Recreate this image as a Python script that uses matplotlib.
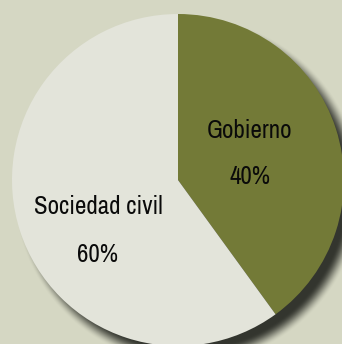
import numpy as np
import matplotlib.pyplot as plt
from matplotlib import font_manager

labels = ['Gobierno', 'Sociedad civil']
shares = [40, 60]
pct_labels = ['40%', '60%']

W, H = 342, 344
bg = '#d5d7c3'
colors = ['#737a37', '#e3e4da']
shadow_rgb = np.array([0x33, 0x35, 0x2e]) / 255

# pick a narrow face if one is installed
fam, stretch = 'DejaVu Sans', 'normal'
for f in font_manager.fontManager.ttflist:
    if 'Condensed' in f.name or 'Narrow' in f.name:
        fam = f.name
        break
    if f.name == 'DejaVu Sans' and f.stretch == 'condensed':
        stretch = 'condensed'

fig = plt.figure(figsize=(W / 100, H / 100), dpi=100, facecolor=bg)
ax = fig.add_axes([0, 0, 1, 1])
ax.set_facecolor(bg)

cx, cy, R = 178, H - 180, 166

# soft drop shadow to the lower right
yy, xx = np.mgrid[0:H, 0:W]
d = np.hypot(xx + 0.5 - (cx + 10), (H - yy - 0.5) - (cy - 11))
a = np.clip((R - d) / 16 + 0.5, 0, 1)
a = a * a * (3 - 2 * a)
img = np.zeros((H, W, 4))
img[..., :3] = shadow_rgb
img[..., 3] = a
ax.imshow(img, extent=[0, W, 0, H], origin='upper', zorder=1, interpolation='bilinear')

ax.pie(shares, colors=colors, startangle=90, counterclock=False,
       center=(cx, cy), radius=R, wedgeprops=dict(linewidth=0, zorder=2))

txt = dict(family=fam, stretch=stretch, fontsize=18, color='#0a0a0a',
           ha='center', va='center', zorder=3)
ax.text(250, H - 130, labels[0], **txt)
ax.text(250, H - 177, pct_labels[0], **txt)
ax.text(98, H - 207, labels[1], **txt)
ax.text(98, H - 254, pct_labels[1], **txt)

ax.set_xlim(0, W)
ax.set_ylim(0, H)
ax.set_aspect('auto')
ax.axis('off')

fig.savefig('out.png', dpi=100, facecolor=bg)
